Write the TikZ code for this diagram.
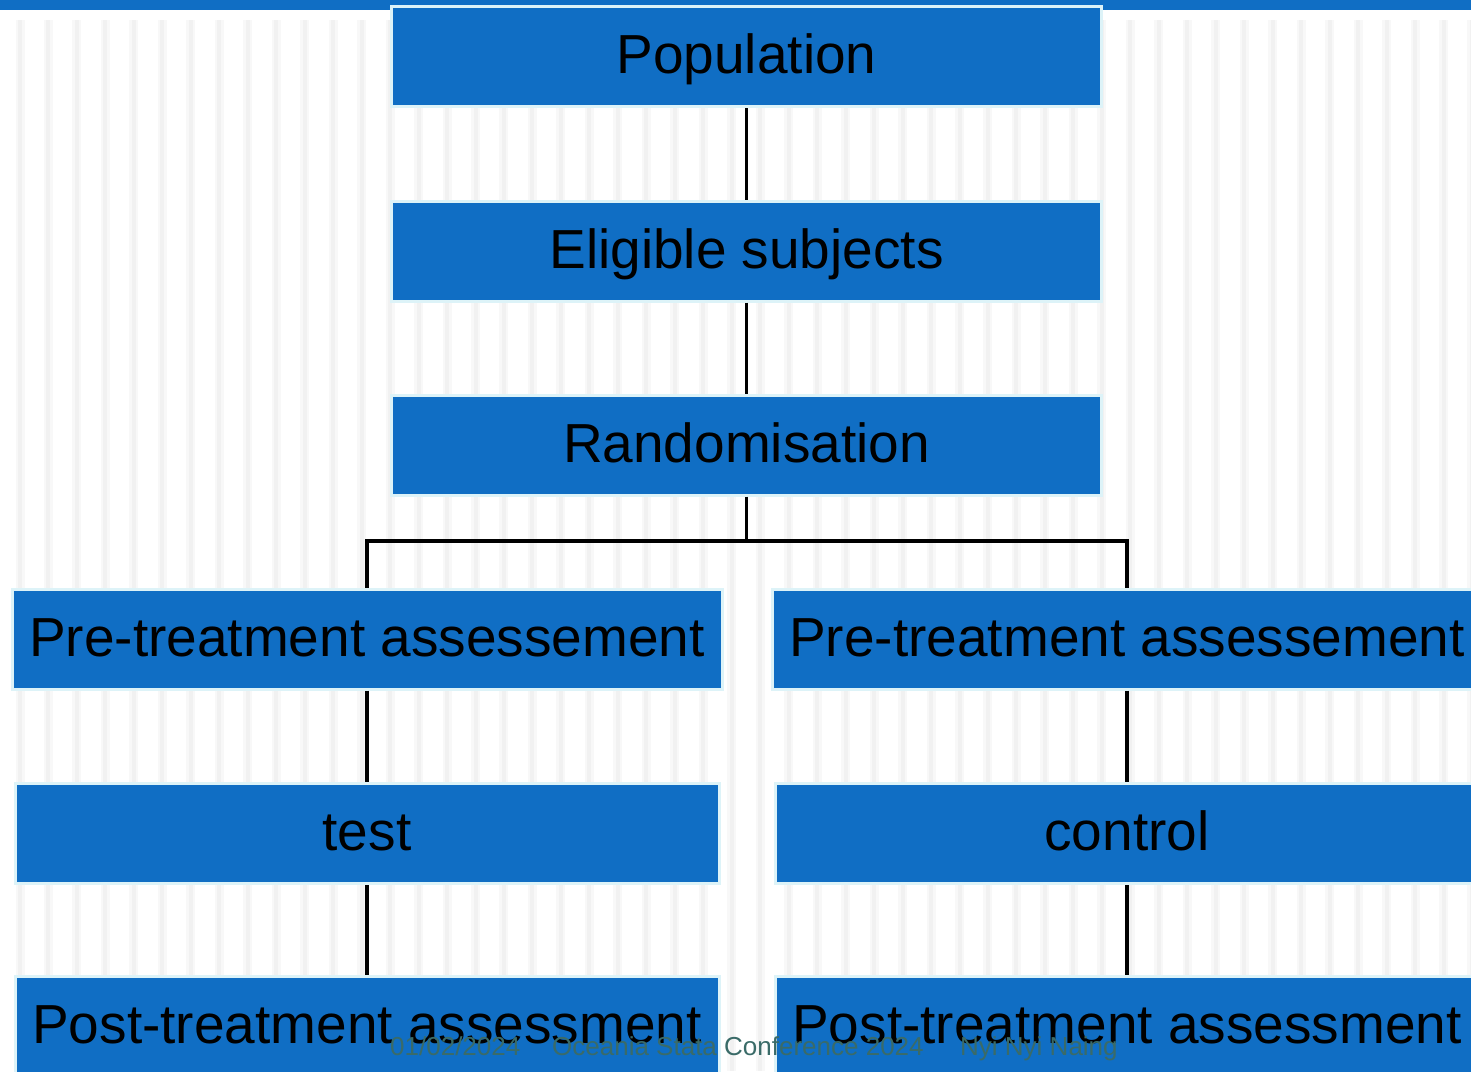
\documentclass[tikz,border=0pt]{standalone}
\usepackage{fontspec}
\setmainfont{Liberation Sans}
\definecolor{boxblue}{HTML}{106EC4}
\definecolor{boxedge}{HTML}{DDF3F8}
\definecolor{stripe}{HTML}{F1F1F1}
\definecolor{stripesoft}{HTML}{F8F8F8}
\definecolor{footgray}{HTML}{3A6B68}
\begin{document}
\begin{tikzpicture}[x=1pt,y=-1pt,
  stagebox/.style={rectangle, fill=boxblue, draw=boxedge, line width=3pt,
    minimum height=100pt, inner sep=0pt, text=black,
    text height=42pt, text depth=8pt,
    font=\fontsize{55}{60}\selectfont},
  wide/.style={minimum width=710pt},
  narrow/.style={minimum width=704pt},
  link/.style={draw=black, line width=3.5pt},
  foot/.style={anchor=base west, inner sep=0pt, text=footgray,
    font=\fontsize{26}{30}\selectfont}]
  % page frame
  \useasboundingbox (0,0) rectangle (1471,1071);
  \fill[white] (0,0) rectangle (1471,1071);
  % faint vertical stripes of the slide background
  \foreach \i in {0,...,51} {
    \fill[stripesoft] ({20+28.47*\i-4.5},20) rectangle ({20+28.47*\i+4.5},1071);
    \fill[stripe] ({20+28.47*\i-2},20) rectangle ({20+28.47*\i+2},1071);
  }
  % top bar
  \fill[boxblue] (0,0) rectangle (1471,10);

  % stages
  \node[stagebox, wide] (pop) at (746.5,56.5) {Population};
  \node[stagebox, wide] (elig) at (746.5,251) {Eligible subjects};
  \node[stagebox, wide] (rand) at (746.5,445) {Randomisation};
  \node[stagebox, wide] (preL) at (367,639) {Pre-treatment assessement};
  \node[stagebox, wide] (preR) at (1127,639) {Pre-treatment assessement};
  \node[stagebox, narrow] (test) at (367,833.5) {test};
  \node[stagebox, narrow] (ctrl) at (1127,833.5) {control};
  \node[stagebox, narrow] (postL) at (367,1026.5) {Post-treatment assessment};
  \node[stagebox, narrow] (postR) at (1127,1026.5) {Post-treatment assessment};

  % connectors
  \coordinate (split) at (746.5,541);
  \draw[link] (pop.south) -- (elig.north);
  \draw[link] (elig.south) -- (rand.north);
  \draw[link] (rand.south) -- (split);
  \draw[link] (preL.north) |- (split) -| (preR.north);
  \draw[link] (preL.south) -- (test.north);
  \draw[link] (test.south) -- (postL.north);
  \draw[link] (preR.south) -- (ctrl.north);
  \draw[link] (ctrl.south) -- (postR.north);

  % footer
  \node[foot] (fdate) at (390,1055) {01/02/2024};
  \node[foot] (fconf) at (552,1055) {Oceania Stata Conference 2024};
  \node[foot] (fname) at (960,1055) {Nyi Nyi Naing};
\end{tikzpicture}
\end{document}
